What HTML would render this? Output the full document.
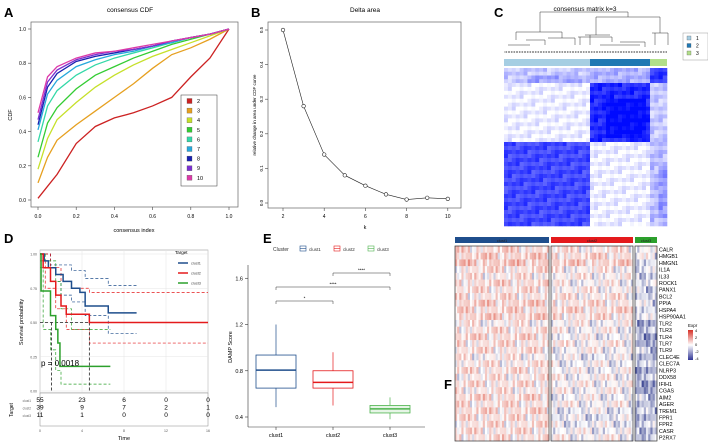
<!DOCTYPE html>
<html><head><meta charset="utf-8"><style>
body{margin:0;background:#fff}
svg{display:block;font-family:"Liberation Sans",Arial,sans-serif}
</style></head><body>
<svg id="fig" width="708" height="442" viewBox="0 0 708 442" xmlns="http://www.w3.org/2000/svg">
<g id="pA">
<text x="4" y="17" font-size="13" font-weight="bold">A</text>
<text x="130" y="12" font-size="6.5" text-anchor="middle">consensus CDF</text>
<rect x="31" y="22" width="207" height="185" fill="none" stroke="#666" stroke-width="0.7"/>
<text x="134" y="232" font-size="5.5" text-anchor="middle">consensus index</text>
<text x="12" y="115" font-size="5.5" text-anchor="middle" transform="rotate(-90 12 115)">CDF</text>
</g>
<g id="pB">
<text x="251" y="17" font-size="13" font-weight="bold">B</text>
<text x="365" y="12" font-size="6.5" text-anchor="middle">Delta area</text>
<rect x="268" y="22" width="193" height="186" fill="none" stroke="#666" stroke-width="0.7"/>
<text x="365" y="229" font-size="5.5" text-anchor="middle">k</text>
<text x="256" y="115" font-size="4.5" text-anchor="middle" transform="rotate(-90 256 115)">relative change in area under CDF curve</text>
</g>
<g id="pC">
<text x="494" y="17" font-size="13" font-weight="bold">C</text>
<text x="585" y="11" font-size="6.5" text-anchor="middle">consensus matrix k=3</text>
</g>
<g id="pD">
<text x="4" y="243" font-size="13" font-weight="bold">D</text>
</g>
<g id="pE">
<text x="263" y="243" font-size="13" font-weight="bold">E</text>
</g>
<g id="pF">
<text x="444" y="389" font-size="13" font-weight="bold">F</text>
</g>
</svg>
<script>
// ---------- DATA ----------
const cdfX=[0,0.05,0.1,0.2,0.3,0.4,0.5,0.6,0.7,0.8,0.9,1];
const cdfK=['2','3','4','5','6','7','8','9','10'];
const cdf2=[0.01,0.08,0.15,0.33,0.43,0.48,0.51,0.55,0.60,0.72,0.83,1];
const cdf3=[0.10,0.25,0.35,0.44,0.52,0.60,0.68,0.77,0.85,0.89,0.94,1];
const cdf4=[0.18,0.36,0.47,0.57,0.66,0.73,0.79,0.84,0.88,0.92,0.96,1];
const cdf5=[0.25,0.45,0.54,0.65,0.73,0.78,0.83,0.87,0.91,0.94,0.97,1];
const cdf6=[0.34,0.55,0.64,0.73,0.79,0.83,0.86,0.89,0.92,0.95,0.97,1];
const cdf7=[0.41,0.62,0.70,0.78,0.82,0.85,0.87,0.90,0.92,0.95,0.97,1];
const cdf8=[0.44,0.66,0.74,0.81,0.84,0.86,0.88,0.90,0.93,0.95,0.97,1];
const cdf9=[0.47,0.69,0.76,0.82,0.85,0.87,0.88,0.90,0.93,0.95,0.97,1];
const cdf10=[0.51,0.72,0.78,0.83,0.86,0.87,0.89,0.91,0.93,0.95,0.97,1];
const cdfTicksX=['0.0','0.2','0.4','0.6','0.8','1.0'];
const cdfTicksY=['0.0','0.2','0.4','0.6','0.8','1.0'];
const deltaK=[2,3,4,5,6,7,8,9,10];
const deltaVal=[0.50,0.28,0.14,0.08,0.05,0.025,0.01,0.015,0.012];
const deltaTicksY=['0.0','0.1','0.2','0.3','0.4','0.5'];
const survClust1=[[0,1],[0.4,0.95],[0.8,0.9],[1.5,0.85],[2.2,0.8],[3,0.75],[3.8,0.72],[4.3,0.62],[6.5,0.57],[9.2,0.57]];
const survClust2=[[0,1],[0.3,0.9],[1,0.8],[1.5,0.7],[2,0.62],[2.5,0.56],[4.7,0.5],[16,0.5]];
const survClust3=[[0,1],[0.1,0.73],[1,0.55],[1.5,0.45],[1.7,0.35],[1.9,0.18],[6.7,0.18]];
const ciUp1=[[0,1],[1,0.92],[3,0.88],[4.3,0.82],[6.5,0.77],[9.2,0.77]];
const ciLo1=[[0,1],[1,0.8],[2,0.7],[3,0.65],[4.3,0.55],[6.5,0.42],[9.2,0.42]];
const ciUp2=[[0,1],[1,0.9],[2,0.8],[3,0.75],[4.7,0.72],[16,0.72]];
const ciLo2=[[0,0.95],[0.5,0.75],[1.5,0.6],[2.5,0.45],[4.7,0.35],[16,0.35]];
const ciUp3=[[0,1],[0.5,0.95],[1.5,0.8],[2,0.6],[3,0.45],[6.7,0.45]];
const ciLo3=[[0,0.9],[0.3,0.45],[1,0.3],[1.5,0.15],[2,0.05],[6.7,0.05]];
const riskGroups=['clust1','clust2','clust3'];
const riskTimes=[0,4,8,12,16];
const risk1=[55,23,6,0,0];
const risk2=[39,9,7,2,1];
const risk3=[11,1,0,0,0];
const boxClusters=['clust1','clust2','clust3'];
const boxLow=[0.485,0.50,0.38];
const boxQ1=[0.65,0.65,0.435];
const boxMed=[0.806,0.70,0.47];
const boxQ3=[0.936,0.80,0.50];
const boxHigh=[1.20,0.96,0.57];
const boxTicks=[0.4,0.8,1.2,1.6];
const genes=['CALR','HMGB1','HMGN1','IL1A','IL33','ROCK1','PANX1','BCL2','PPIA','HSPA4','HSP90AA1','TLR2','TLR3','TLR4','TLR7','TLR9','CLEC4E','CLEC7A','NLRP3','DDX58','IFIH1','CGAS','AIM2','AGER','TREM1','FPR1','FPR2','CASR','P2RX7'];
const meanClust1=[0.4,0.5,0.6,0.3,0.2,0.4,0.3,0.3,0.5,0.4,0.5,0.1,0.3,0.4,0.3,0.3,0.1,0.2,0.3,0.2,0.3,0.2,0.4,0.3,0.4,0.3,0.3,0.3,0.3];
const meanClust2=[0.2,0.4,0.5,0.1,0.1,0.0,0.1,0.2,0.3,0.4,0.3,0.0,0.0,-0.1,0.1,0.0,-0.2,-0.1,-0.1,0.0,0.0,0.0,-0.1,0.0,-0.2,-0.3,-0.2,-0.1,0.0];
const meanClust3=[0.0,-0.2,-0.3,-0.5,-0.4,-0.3,-0.5,-0.4,-0.4,-0.3,-0.4,-0.8,-0.7,-0.9,-0.9,-0.6,-0.7,-0.7,-0.8,-0.7,-0.9,-1.0,-0.6,-0.6,-0.7,-0.7,-0.6,-0.6,-0.7];
const hmTexture=[0.9,-0.6,0.2,1.3,-1.1,0.4,-0.2,0.7,-0.9,1.6,0.0,-0.4,0.5,-1.4,1.0,-0.1,0.3,-0.7,1.1,-0.3,0.6,-1.8,0.2];
const cmColGroups=['1','2','3'];
const cmBlock3=[0.2,0.3,0.8];
const cmBlock2=[0.05,0.85,0.2];
const cmBlock1=[0.72,0.05,0.25];
</script>
<script>
const NS='http://www.w3.org/2000/svg';
function mk(parent,tag,attrs,text){const e=document.createElementNS(NS,tag);for(const k in attrs)e.setAttribute(k,attrs[k]);if(text!==undefined)e.textContent=text;parent.appendChild(e);return e;}
const gA=document.getElementById('pA'),gB=document.getElementById('pB'),gC=document.getElementById('pC'),gD=document.getElementById('pD'),gE=document.getElementById('pE'),gF=document.getElementById('pF');

// ---- Panel A ----
const axA={x:v=>38+v*191,y:v=>200-v*171};
const cdfSeries=[cdf2,cdf3,cdf4,cdf5,cdf6,cdf7,cdf8,cdf9,cdf10];
const cdfCols=['#cc2222','#e6a020','#c6e02a','#33cc33','#33d8a8','#26a8dc','#1820b0','#7a30d0','#dd3aa8'];
cdfSeries.forEach((s,i)=>{
  const p=mk(gA,'polyline',{points:s.map((v,j)=>axA.x(cdfX[j])+','+axA.y(v)).join(' '),fill:'none',stroke:cdfCols[i],'stroke-width':1.3});
  
  
});
cdfTicksY.forEach(t=>{const y=axA.y(+t);mk(gA,'line',{x1:28,x2:31,y1:y,y2:y,stroke:'#444','stroke-width':0.6});
  const l=mk(gA,'text',{x:26,y:y+2,'font-size':5,'text-anchor':'end'},t);
  
  });
cdfTicksX.forEach(t=>{const x=axA.x(+t);mk(gA,'line',{x1:x,x2:x,y1:207,y2:210,stroke:'#444','stroke-width':0.6});
  const l=mk(gA,'text',{x:x,y:218,'font-size':5,'text-anchor':'middle'},t);
  
  });
const lgA=mk(gA,'rect',{x:181,y:95,width:36,height:91,fill:'#fff',stroke:'#333','stroke-width':0.5});


cdfK.forEach((k,i)=>{const y=101+i*9.6;mk(gA,'rect',{x:187,y:y-2.5,width:5,height:5,fill:cdfCols[i],stroke:'#555','stroke-width':0.3});
  const l=mk(gA,'text',{x:197,y:y+2,'font-size':5.5},k);
  
  });

// ---- Panel B ----
const axB={x:k=>283+(k-2)*20.6,y:v=>203-v*346};
const bl=mk(gB,'polyline',{points:deltaK.map((k,i)=>axB.x(k)+','+axB.y(deltaVal[i])).join(' '),fill:'none',stroke:'#222','stroke-width':0.6});


deltaK.forEach((k,i)=>{const c=mk(gB,'circle',{cx:axB.x(k),cy:axB.y(deltaVal[i]),r:1.8,fill:'#fff',stroke:'#222','stroke-width':0.6});
  
  });
deltaTicksY.forEach(t=>{const y=axB.y(+t);mk(gB,'line',{x1:265,x2:268,y1:y,y2:y,stroke:'#444','stroke-width':0.6});
  const l=mk(gB,'text',{x:263,y:y,'font-size':4.5,'text-anchor':'middle',transform:`rotate(-90 263 ${y})`},t);
  
  });
[2,4,6,8,10].forEach(k=>{const x=axB.x(k);mk(gB,'line',{x1:x,x2:x,y1:208,y2:211,stroke:'#444','stroke-width':0.6});
  const l=mk(gB,'text',{x:x,y:218,'font-size':5,'text-anchor':'middle'},String(k));
  
  });

// ---- Panel C ----
const cX=[504,590,650,667], cY=[68,83,142,226];
const cmBlocks=[cmBlock3,cmBlock2,cmBlock1];
const cmTex=[0,0.08,-0.05,0.12,-0.1,0.03,0.15,-0.08,0.05,-0.02,0.1,-0.06,0.02];
for(let r=0;r<3;r++)for(let c=0;c<3;c++){
  const base=cmBlocks[r][c];const x0=cX[c],x1=cX[c+1],y0=cY[r],y1=cY[r+1];
  const w=x1-x0,h=y1-y0;const nx=Math.max(2,Math.round(w/4)),ny=Math.max(2,Math.round(h/4));
  for(let i=0;i<ny;i++)for(let j=0;j<nx;j++){
    const core=(r===c && i>ny*0.25 && j>nx*0.25 && i<ny*0.9 && j<nx*0.9)?0.15:0;
    let v=base+core+cmTex[(i*3+j*11+r*5+c*2)%cmTex.length];v=Math.max(0,Math.min(1,v));
    const R=Math.round(255-v*255),G=Math.round(255-v*245);
    mk(gC,'rect',{x:x0+j*w/nx,y:y0+i*h/ny,width:w/nx+0.3,height:h/ny+0.3,fill:`rgb(${R},${G},255)`});
  }
}
const cmFrame=mk(gC,'rect',{x:504,y:68,width:163,height:158,fill:'none',stroke:'none'});


[['#a6cee3',504,590],['#1f78b4',590,650],['#b2df8a',650,667]].forEach((b,i)=>{
  const r=mk(gC,'rect',{x:b[1],y:59,width:b[2]-b[1],height:7,fill:b[0]});
  
  });
const dg=mk(gC,'path',{fill:'none',stroke:'#333','stroke-width':0.5,d:(()=>{
  let d='M540 32 V12 H628 V17 M516 40 V32 H562 V38 M596 35 V17 H660 V33 M652 33 H668 V45 M655 33 V45 M578 37 H612 V42 M580 37 V45 M526 40 H545 V45 M548 38 H575 V45 M585 35 H610 M590 35 V45 M620 42 H645 V47 M508 45 H530 M600 45 H640 ';
  for(let x=505;x<667;x+=1.6){const h=45+((Math.round(x*10)*7)%8);d+=`M${x.toFixed(1)} 53 V${h} `;}
  return d;})()});


const lgC=mk(gC,'rect',{x:683,y:33,width:25,height:27,fill:'#fff',stroke:'#999','stroke-width':0.5});


['#a6cee3','#1f78b4','#b2df8a'].forEach((c,i)=>{mk(gC,'rect',{x:687,y:36+i*7.5,width:4,height:4,fill:c,stroke:'#555','stroke-width':0.3});
  const l=mk(gC,'text',{x:696,y:40+i*7.5,'font-size':5},cmColGroups[i]);
  
  });

// ---- Panel D ----
const axD={x:t=>40+t*10.5,y:s=>391-s*137};
mk(gD,'rect',{x:40,y:250,width:168,height:143,fill:'#fff',stroke:'#888','stroke-width':0.5});
[0,4,8,12,16].forEach(t=>mk(gD,'line',{x1:axD.x(t),x2:axD.x(t),y1:250,y2:393,stroke:'#e4e4e4','stroke-width':0.5}));
[0,0.25,0.5,0.75,1].forEach(s=>{mk(gD,'line',{x1:40,x2:208,y1:axD.y(s),y2:axD.y(s),stroke:'#e4e4e4','stroke-width':0.5});
  const l=mk(gD,'text',{x:37,y:axD.y(s)+1.5,'font-size':3.5,'text-anchor':'end',fill:'#555'},s.toFixed(2));
  
  });
function stepPath(pts){let d=`M${axD.x(pts[0][0])} ${axD.y(pts[0][1])}`;for(let i=1;i<pts.length;i++){d+=` H${axD.x(pts[i][0])} V${axD.y(pts[i][1])}`;}return d;}
const sCols=['#1f4e8c','#e41a1c','#2ca02c'];
[[ciUp1,ciLo1],[ciUp2,ciLo2],[ciUp3,ciLo3]].forEach((pr,i)=>pr.forEach((c,j)=>{
  const p=mk(gD,'path',{d:stepPath(c),fill:'none',stroke:sCols[i],'stroke-width':0.7,'stroke-dasharray':'3,2'});
  
  }));
mk(gD,'path',{d:`M40 ${axD.y(0.5)} H${axD.x(4.7)} M${axD.x(1.1)} ${axD.y(0.5)} V391 M${axD.x(4.7)} ${axD.y(0.5)} V391`,stroke:'#222','stroke-width':0.8,'stroke-dasharray':'3,2',fill:'none'});
[survClust1,survClust2,survClust3].forEach((s,i)=>{
  const p=mk(gD,'path',{d:stepPath(s),fill:'none',stroke:sCols[i],'stroke-width':1.5});
  
  });
const pv=mk(gD,'text',{x:41,y:366,'font-size':8},'p = 0.0018');


mk(gD,'text',{x:23,y:322,'font-size':5.5,'text-anchor':'middle',transform:'rotate(-90 23 322)'},'Survival probability');
mk(gD,'text',{x:175,y:254,'font-size':4.5},'Target');
riskGroups.forEach((g,i)=>{const y=263+i*10;mk(gD,'line',{x1:178,x2:188,y1:y,y2:y,stroke:sCols[i],'stroke-width':1.5});
  const l=mk(gD,'text',{x:191,y:y+1.5,'font-size':3.8,fill:'#444'},g);
  
  });
mk(gD,'rect',{x:40,y:393,width:168,height:33,fill:'#fff',stroke:'#888','stroke-width':0.5});
mk(gD,'text',{x:13,y:410,'font-size':5,'text-anchor':'middle',transform:'rotate(-90 13 410)'},'Target');
[risk1,risk2,risk3].forEach((r,i)=>{const y=402+i*7.5;
  mk(gD,'text',{x:31,y:y,'font-size':3.2,'text-anchor':'end',fill:'#666'},riskGroups[i]);
  r.forEach((v,j)=>{const t=mk(gD,'text',{x:axD.x(riskTimes[j]),y:y,'font-size':6.5,'text-anchor':'middle'},String(v));
    
    });});
riskTimes.forEach(t=>mk(gD,'text',{x:axD.x(t),y:432,'font-size':3.5,'text-anchor':'middle',fill:'#555'},String(t)));
mk(gD,'text',{x:124,y:440,'font-size':5.5,'text-anchor':'middle'},'Time');

// ---- Panel E ----
const axE={x:i=>276+i*57,y:v=>417-(v-0.4)*115.6};
mk(gE,'line',{x1:248,x2:248,y1:265,y2:427,stroke:'#333','stroke-width':0.6});
mk(gE,'line',{x1:248,x2:425,y1:427,y2:427,stroke:'#333','stroke-width':0.6});
boxTicks.forEach(t=>{const y=axE.y(t);mk(gE,'line',{x1:245,x2:248,y1:y,y2:y,stroke:'#333','stroke-width':0.6});
  const l=mk(gE,'text',{x:243,y:y+2,'font-size':5.5,'text-anchor':'end'},t.toFixed(1));
  
  });
mk(gE,'text',{x:232,y:347,'font-size':5.5,'text-anchor':'middle',transform:'rotate(-90 232 347)'},'DAMP Score');
const eCols=['#1f4e8c','#e41a1c','#4db34d'];
boxClusters.forEach((c,i)=>{const x=axE.x(i),w=20;
  const g=mk(gE,'g',{});
  
  
  mk(g,'line',{x1:x,x2:x,y1:axE.y(boxHigh[i]),y2:axE.y(boxQ3[i]),stroke:eCols[i],'stroke-width':0.7});
  mk(g,'line',{x1:x,x2:x,y1:axE.y(boxQ1[i]),y2:axE.y(boxLow[i]),stroke:eCols[i],'stroke-width':0.7});
  mk(g,'rect',{x:x-w,y:axE.y(boxQ3[i]),width:2*w,height:axE.y(boxQ1[i])-axE.y(boxQ3[i]),fill:i==2?'#e6f5e6':'#fff',stroke:eCols[i],'stroke-width':0.8});
  mk(g,'line',{x1:x-w,x2:x+w,y1:axE.y(boxMed[i]),y2:axE.y(boxMed[i]),stroke:eCols[i],'stroke-width':1.5});
  mk(gE,'line',{x1:x,x2:x,y1:427,y2:430,stroke:'#333','stroke-width':0.6});
  const l=mk(gE,'text',{x:x,y:437,'font-size':5.5,'text-anchor':'middle'},c);
  
  });
[[0,1,301,'*'],[0,2,287,'****'],[1,2,273,'****']].forEach(b=>{const x1=axE.x(b[0]),x2=axE.x(b[1]);
  mk(gE,'path',{d:`M${x1} ${b[2]+3} V${b[2]} H${x2} V${b[2]+3}`,fill:'none',stroke:'#333','stroke-width':0.5});
  const l=mk(gE,'text',{x:(x1+x2)/2,y:b[2]-1.5,'font-size':4.5,'text-anchor':'middle'},b[3]);
  
  });
mk(gE,'text',{x:273,y:251,'font-size':5,fill:'#333'},'Cluster');
boxClusters.forEach((c,i)=>{const x=300+i*34;mk(gE,'rect',{x:x,y:246,width:6,height:5,fill:'#fff',stroke:eCols[i],'stroke-width':0.6});
  mk(gE,'line',{x1:x,x2:x+6,y1:248.5,y2:248.5,stroke:eCols[i],'stroke-width':0.6});
  const l=mk(gE,'text',{x:x+9,y:251,'font-size':4.5,fill:'#333'},c);
  
  });

// ---- Panel F ----
function hmColor(v){v=Math.max(-4,Math.min(4,v));if(v>=0){const t=Math.min(1,v/2.2);return `rgb(${Math.round(255-t*30)},${Math.round(255-t*150)},${Math.round(255-t*165)})`;}
  const t=Math.min(1,-v/2.2);return `rgb(${Math.round(255-t*190)},${Math.round(255-t*180)},${Math.round(255-t*105)})`;}
const hmGroups=[[455,549,44,meanClust1,'#1f4e8c','clust1'],[551,633,38,meanClust2,'#e41a1c','clust2'],[635,657,10,meanClust3,'#2ca02c','clust3']];
const rowH=(441-246)/genes.length;
hmGroups.forEach((gp,gi)=>{const [x0,x1,n,means,col,name]=gp;const cw=(x1-x0)/n;
  const hb=mk(gF,'rect',{x:x0,y:237,width:x1-x0,height:6,fill:col});
  
  
  mk(gF,'text',{x:(x0+x1)/2,y:242,'font-size':4,'text-anchor':'middle',fill:'#222'},name);
  genes.forEach((g,r)=>{for(let c=0;c<n;c++){
    const v=means[r]*1.2+hmTexture[(r*7+c*3+gi*5)%hmTexture.length]*0.6;
    mk(gF,'rect',{x:x0+c*cw,y:246+r*rowH,width:cw+0.2,height:rowH+0.2,fill:hmColor(v)});}});
  const fr=mk(gF,'rect',{x:x0,y:246,width:x1-x0,height:195,fill:'none',stroke:'#333','stroke-width':0.7});
  
  
});
genes.forEach((g,r)=>{const l=mk(gF,'text',{x:659,y:246+r*rowH+rowH*0.8,'font-size':5.3},g);
  
  });
mk(gF,'text',{x:688,y:327,'font-size':4.5},'Expr');
const defs=mk(document.getElementById('fig'),'defs',{});
const lg=mk(defs,'linearGradient',{id:'exg',x1:0,y1:0,x2:0,y2:1});
[['0','#d73027'],['0.5','#fff'],['1','#313695']].forEach(s=>mk(lg,'stop',{offset:s[0],'stop-color':s[1]}));
const eb=mk(gF,'rect',{x:688,y:330,width:5,height:30,fill:'url(#exg)'});


['4','2','0','-2','-4'].forEach((t,i)=>mk(gF,'text',{x:695,y:332+i*7,'font-size':4},t));
</script>
</body></html>
